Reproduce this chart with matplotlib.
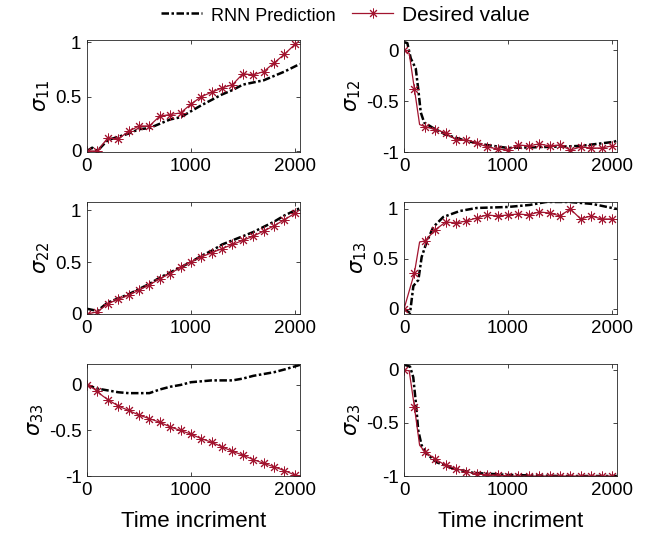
import matplotlib.pyplot as plt
import numpy as np

plt.rcParams['font.family'] = ['Liberation Sans', 'DejaVu Sans']
plt.rcParams['axes.unicode_minus'] = False

# time increments of the desired values (markers every 100)
t_des = [0, 50, 100, 150, 200, 300, 400, 500, 600, 700, 800, 900, 1000,
         1100, 1200, 1300, 1400, 1500, 1600, 1700, 1800, 1900, 2000]

# desired values
s11_des = [0, 0, 0, 0.06, 0.12, 0.11, 0.18, 0.23, 0.23, 0.32, 0.335, 0.35, 0.43,
           0.5, 0.54, 0.58, 0.61, 0.71, 0.70, 0.73, 0.81, 0.89, 0.98]
s12_des = [0, -0.03, -0.38, -0.73, -0.75, -0.78, -0.81, -0.88, -0.88, -0.91, -0.95, -0.97, -0.98,
           -0.93, -0.94, -0.92, -0.94, -0.93, -0.98, -0.95, -0.96, -0.96, -0.94]
s22_des = [0, 0.01, 0.02, 0.06, 0.10, 0.14, 0.18, 0.23, 0.28, 0.34, 0.39, 0.45, 0.50,
           0.55, 0.59, 0.63, 0.67, 0.71, 0.75, 0.80, 0.85, 0.91, 0.97]
s13_des = [0, 0.18, 0.36, 0.67, 0.68, 0.79, 0.87, 0.86, 0.88, 0.91, 0.94, 0.93, 0.94,
           0.95, 0.94, 0.97, 0.96, 0.93, 1.0, 0.90, 0.93, 0.90, 0.90]
s33_des = [0, -0.03, -0.07, -0.12, -0.16, -0.23, -0.28, -0.33, -0.37, -0.41, -0.46, -0.50, -0.54,
           -0.59, -0.63, -0.68, -0.73, -0.77, -0.82, -0.86, -0.90, -0.94, -0.99]
s23_des = [0, -0.01, -0.35, -0.71, -0.77, -0.84, -0.90, -0.93, -0.96, -0.98, -0.99, -0.99, -1.0,
           -1.0, -1.0, -1.0, -1.0, -1.0, -1.0, -1.0, -1.0, -1.0, -1.0]

# RNN predictions
t11 = [0, 50, 100, 200, 300, 400, 500, 600, 700, 800, 900, 1000, 1100, 1200,
       1300, 1400, 1500, 1600, 1700, 1800, 1900, 2048]
s11_rnn = [0, 0.03, 0.0, 0.10, 0.13, 0.16, 0.20, 0.21, 0.25, 0.29, 0.31, 0.365, 0.42, 0.47,
           0.52, 0.56, 0.61, 0.63, 0.65, 0.69, 0.73, 0.80]
t12 = [0, 32, 65, 113, 139, 161, 194, 274, 403, 565, 726, 1000, 1371, 1694, 2016, 2048]
s12_rnn = [0.08, 0.07, -0.08, -0.18, -0.40, -0.61, -0.71, -0.76, -0.83, -0.88, -0.92, -0.96,
           -0.95, -0.94, -0.90, -0.89]
t22 = [0, 100, 200, 300, 400, 500, 600, 700, 800, 900, 1000, 1100, 1200,
       1300, 1400, 1500, 1600, 1700, 1800, 1900, 2048]
s22_rnn = [0.05, 0.03, 0.11, 0.15, 0.19, 0.24, 0.29, 0.35, 0.40, 0.45, 0.50, 0.56, 0.61,
           0.67, 0.71, 0.75, 0.79, 0.84, 0.89, 0.95, 1.02]
t13 = [0, 58, 90, 138, 170, 218, 282, 378, 538, 699, 1000, 1208, 1367, 1591, 1815, 2048]
s13_rnn = [0, -0.04, 0.23, 0.29, 0.52, 0.67, 0.82, 0.92, 0.98, 1.01, 1.02, 1.04, 1.07, 1.07,
           1.05, 1.0]
t33 = [0, 100, 200, 300, 400, 500, 600, 700, 800, 900, 1000, 1100, 1200,
       1300, 1400, 1500, 1600, 1700, 1800, 1900, 2048]
s33_rnn = [0, -0.04, -0.06, -0.08, -0.09, -0.09, -0.09, -0.05, -0.02, 0.0, 0.03, 0.04, 0.05,
           0.05, 0.05, 0.07, 0.10, 0.12, 0.14, 0.17, 0.22]
t23 = [0, 58, 89, 115, 137, 169, 217, 313, 473, 665, 1000, 1500, 2048]
s23_rnn = [0.05, 0.03, -0.07, -0.32, -0.57, -0.71, -0.79, -0.87, -0.93, -0.97, -0.99, -1.0, -1.0]

panels = [
    (r'$\sigma_{11}$', t11, s11_rnn, s11_des, (-0.01, 1.02), [0, 0.5, 1], ['0', '0.5', '1']),
    (r'$\sigma_{12}$', t12, s12_rnn, s12_des, (-1, 0.1), [-1, -0.5, 0], ['-1', '-0.5', '0']),
    (r'$\sigma_{22}$', t22, s22_rnn, s22_des, (0, 1.08), [0, 0.5, 1], ['0', '0.5', '1']),
    (r'$\sigma_{13}$', t13, s13_rnn, s13_des, (-0.05, 1.07), [0, 0.5, 1], ['0', '0.5', '1']),
    (r'$\sigma_{33}$', t33, s33_rnn, s33_des, (-1, 0.23), [-1, -0.5, 0], ['-1', '-0.5', '0']),
    (r'$\sigma_{23}$', t23, s23_rnn, s23_des, (-1, 0.055), [-1, -0.5, 0], ['-1', '-0.5', '0']),
]

red = '#A2142F'
mark_idx = [i for i, t in enumerate(t_des) if t % 100 == 0]

fig = plt.figure(figsize=(6.51, 5.45), dpi=100)
lefts = [0.1336, 0.6206]
bottoms = [0.721, 0.4239, 0.1266]
w, h = 0.327, 0.2055

for k, (lab, tr, yr, yd, ylim, yt, ytl) in enumerate(panels):
    row, col = k // 2, k % 2
    ax = fig.add_axes([lefts[col], bottoms[row], w, h])
    l1, = ax.plot(tr, yr, color='k', lw=1.8, linestyle=(0, (3, 1, 1, 1)))
    l2, = ax.plot(t_des, yd, '-', color=red, lw=0.9, marker=(8, 2, 0), ms=7,
                  mew=0.7, markevery=mark_idx)
    ax.set_xlim(0, 2048)
    ax.set_ylim(*ylim)
    ax.set_xticks([0, 1000, 2000])
    ax.set_xticklabels(['0', '1000', '2000'])
    ax.set_yticks(yt)
    ax.set_yticklabels(ytl)
    ax.tick_params(direction='in', top=True, right=True, labelsize=13.5, length=3,
                   width=0.6, colors='#262626', labelcolor='k', pad=4)
    for s in ax.spines.values():
        s.set_linewidth(0.6)
        s.set_color('#262626')
    ax.set_ylabel(lab, fontsize=15, labelpad=2)
    if row == 2:
        ax.set_xlabel('Time incriment', fontsize=16, labelpad=9)

leg = fig.legend([l1, l2], ['RNN Prediction', 'Desired value'], loc='center',
                 bbox_to_anchor=(0.53, 0.972), ncol=2, frameon=False, fontsize=15,
                 handlelength=2.0, columnspacing=0.8, handletextpad=0.4)
leg.get_texts()[0].set_fontsize(13)

fig.savefig('out.png', dpi=100)
